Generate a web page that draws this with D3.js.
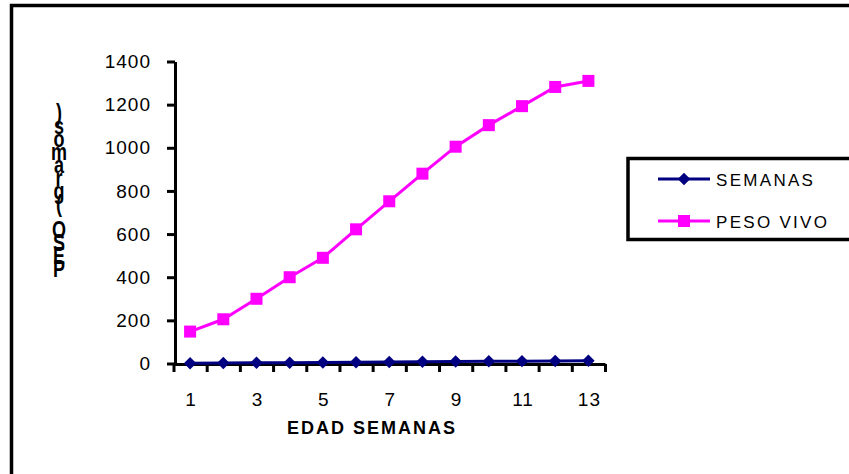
<!DOCTYPE html>
<html>
<head>
<meta charset="utf-8">
<script src="https://cdn.jsdelivr.net/npm/d3@7"></script>
<style>
  html, body { margin: 0; padding: 0; background: #fff; }
  svg { display: block; font-family: "Liberation Sans", Arial, sans-serif; }
</style>
</head>
<body>
<svg id="chart" width="849" height="474"></svg>
<script>
// Weeks of age (category axis)
const semanasCat = [1, 2, 3, 4, 5, 6, 7, 8, 9, 10, 11, 12, 13];
// Series values
const semanasVals = [1, 2, 3, 4, 5, 6, 7, 8, 9, 10, 11, 12, 13];
const pesoVivoVals = [148, 205, 300, 400, 490, 622, 752, 880, 1005, 1105, 1193, 1282, 1310];
// Axis ticks and labels
const yTicks = [0, 200, 400, 600, 800, 1000, 1200, 1400];
const xLabelTicks = [1, 3, 5, 7, 9, 11, 13];
const seriesNames = ["SEMANAS", "PESO VIVO"];
const yTitle = "PESO (gramos)";
const xTitle = "EDAD  SEMANAS";

const svg = d3.select("#chart");
const navy = "#000080", magenta = "#FF00FF";
const font = "Liberation Sans, Arial, sans-serif";

// Outer frame
svg.append("rect")
  .attr("x", 11.5).attr("y", 5.5).attr("width", 900).attr("height", 520)
  .attr("fill", "none").attr("stroke", "#000").attr("stroke-width", 3.5);

const x = d3.scaleLinear().domain([0.5, 13.5]).range([173.5, 605]);
const y = d3.scaleLinear().domain([0, 1400]).range([363.5, 61.5]);

// Y axis
const yAxis = svg.append("g").attr("transform", "translate(175,0)")
  .call(d3.axisLeft(y).tickValues(yTicks).tickFormat(d3.format("d"))
    .tickSize(8).tickPadding(16).tickSizeOuter(0));
yAxis.select(".domain").attr("stroke-width", 3);
yAxis.selectAll(".tick line").attr("stroke-width", 3);
yAxis.selectAll(".tick text")
  .attr("font-size", 19).attr("letter-spacing", 1).attr("fill", "#000")
  .attr("font-family", font);

// X axis: tick marks between categories
const xAxis = svg.append("g").attr("transform", "translate(0,364)")
  .call(d3.axisBottom(x).tickValues(d3.range(0.5, 14, 1)).tickSize(8).tickFormat("").tickSizeOuter(0));
xAxis.select(".domain").attr("stroke-width", 3);
xAxis.selectAll(".tick line").attr("stroke-width", 3);

// X axis labels on odd weeks
const xLab = svg.append("g").attr("transform", "translate(0,364)")
  .call(d3.axisBottom(x).tickValues(xLabelTicks).tickSize(0).tickPadding(29));
xLab.select(".domain").remove();
xLab.selectAll(".tick text")
  .attr("font-size", 19).attr("letter-spacing", 1).attr("fill", "#000")
  .attr("dx", 0.5)
  .attr("font-family", font);

// X axis title
svg.append("text")
  .attr("x", 372).attr("y", 434).attr("text-anchor", "middle")
  .attr("font-size", 18).attr("font-weight", "bold").attr("letter-spacing", 2)
  .text(xTitle);

// Y axis title: upright, vertically stretched letters stacked bottom to top
const yChars = Array.from(yTitle);
const yStretch = 1.3;
svg.append("g").attr("transform", `translate(59,0) scale(1,${yStretch})`)
  .append("text")
  .attr("text-anchor", "middle")
  .attr("font-size", 18).attr("font-weight", "bold")
  .selectAll("tspan").data(yChars).join("tspan")
  .attr("x", 0)
  .attr("y", (d, i) => (277 - i * 13) / yStretch)
  .text(d => d);

// Lines
const line = d3.line().x((d, i) => x(semanasCat[i])).y(d => y(d));
svg.append("path").datum(semanasVals).attr("d", line)
  .attr("fill", "none").attr("stroke", navy).attr("stroke-width", 3);
svg.append("path").datum(pesoVivoVals).attr("d", line)
  .attr("fill", "none").attr("stroke", magenta).attr("stroke-width", 3);

// Markers
const diamond = d3.symbol().type(d3.symbolSquare).size(78);
svg.append("g").selectAll("path").data(semanasVals).join("path")
  .attr("transform", (d, i) => `translate(${x(semanasCat[i])},${y(d)}) rotate(45)`)
  .attr("d", diamond)
  .attr("fill", navy);
svg.append("g").selectAll("rect").data(pesoVivoVals).join("rect")
  .attr("x", (d, i) => x(semanasCat[i]) - 6)
  .attr("y", d => y(d) - 6)
  .attr("width", 12).attr("height", 12)
  .attr("fill", magenta);

// Legend
const leg = svg.append("g");
leg.append("rect")
  .attr("x", 628).attr("y", 158.5).attr("width", 300).attr("height", 81)
  .attr("fill", "#fff").attr("stroke", "#000").attr("stroke-width", 3.5);
const legY = [179, 221];
const legColors = [navy, magenta];
seriesNames.forEach((name, i) => {
  leg.append("line")
    .attr("x1", 658).attr("x2", 710).attr("y1", legY[i]).attr("y2", legY[i])
    .attr("stroke", legColors[i]).attr("stroke-width", 3);
  if (i === 0) {
    leg.append("path")
      .attr("transform", `translate(684,${legY[i]}) rotate(45)`)
      .attr("d", diamond)
      .attr("fill", navy);
  } else {
    leg.append("rect")
      .attr("x", 678).attr("y", legY[i] - 6).attr("width", 12).attr("height", 12)
      .attr("fill", magenta);
  }
  leg.append("text")
    .attr("x", 716).attr("y", legY[i] + 6.5)
    .attr("font-size", 17).attr("letter-spacing", 2.3)
    .text(name);
});
</script>
</body>
</html>
